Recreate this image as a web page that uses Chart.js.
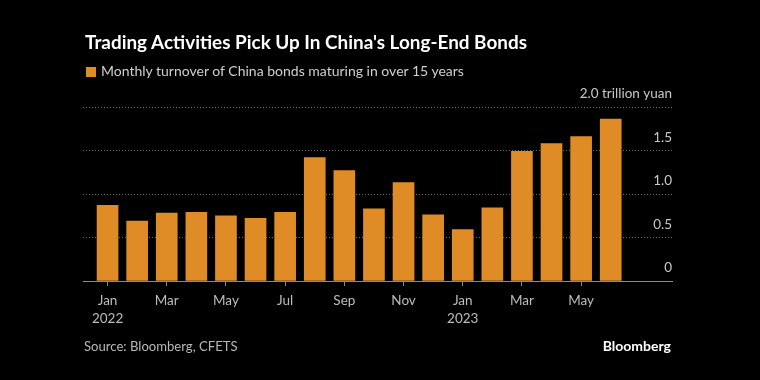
<!DOCTYPE html>
<html>
<head>
<meta charset="utf-8">
<script src="https://cdn.jsdelivr.net/npm/chart.js@4/dist/chart.umd.min.js"></script>
<style>
  html, body { margin: 0; padding: 0; background: #000; }
  #wrap { position: relative; width: 760px; height: 380px; background: #000; overflow: hidden; font-family: Lato, "Noto Sans", sans-serif; }
  #chart { position: absolute; left: 0; top: 0; }
  .t { position: absolute; white-space: nowrap; line-height: 1; }
  #title { left: 85px; top: 33px; font-size: 18.9px; font-weight: 700; color: #fff; }
  #legend { left: 86px; top: 64px; font-size: 14px; color: #d0d0d0; }
  #legend .sq { display: inline-block; width: 10px; height: 10px; background: #df8c27; margin-right: 5px; vertical-align: -1px; }
  #source { left: 84px; top: 340px; font-size: 13.1px; color: #b8b8b8; }
  #brand { right: 89px; top: 339px; font-size: 14px; font-weight: 700; color: #fff; }
</style>
</head>
<body>
<div id="wrap">
  <canvas id="chart" width="760" height="380"></canvas>
  <div class="t" id="title">Trading Activities Pick Up In China's Long-End Bonds</div>
  <div class="t" id="legend"><span class="sq"></span>Monthly turnover of China bonds maturing in over 15 years</div>
  <div class="t" id="source">Source: Bloomberg, CFETS</div>
  <div class="t" id="brand">Bloomberg</div>
</div>
<script>
// Months (Jan 2022 – Jun 2023)
const categories = ['2022-01','2022-02','2022-03','2022-04','2022-05','2022-06','2022-07','2022-08','2022-09',
                    '2022-10','2022-11','2022-12','2023-01','2023-02','2023-03','2023-04','2023-05','2023-06'];
// Monthly turnover, trillion yuan
const turnover = [0.87, 0.69, 0.78, 0.79, 0.75, 0.72, 0.79, 1.42, 1.27,
                  0.83, 1.13, 0.76, 0.59, 0.84, 1.49, 1.58, 1.66, 1.86];
// X tick positions (month index) and labels
const xTickIndex = [0, 2, 4, 6, 8, 10, 12, 14, 16];
const xTickLabels = [['Jan','2022'], 'Mar', 'May', 'Jul', 'Sep', 'Nov', ['Jan','2023'], 'Mar', 'May'];
// Y ticks
const yTicks = [0, 0.5, 1.0, 1.5, 2.0];
const yTickLabels = ['0', '0.5', '1.0', '1.5', '2.0 trillion yuan'];

const points = turnover.map((v, i) => ({ x: i, y: v }));
const font = "Lato, 'Noto Sans', sans-serif";

new Chart(document.getElementById('chart'), {
  type: 'bar',
  data: {
    datasets: [{
      label: 'Monthly turnover of China bonds maturing in over 15 years',
      data: points,
      backgroundColor: '#df8c27',
      borderWidth: 0,
      barThickness: 21
    }]
  },
  options: {
    responsive: false,
    animation: false,
    events: [],
    layout: { padding: { left: 83, right: 88, top: 107, bottom: 0 } },
    plugins: { legend: { display: false }, title: { display: false }, tooltip: { enabled: false } },
    scales: {
      x: {
        type: 'linear',
        offset: false,
        min: -0.83,
        max: 19.07,
        afterBuildTicks: s => { s.ticks = xTickIndex.map(v => ({ value: v })); },
        afterFit: s => { s.height = 99; },
        ticks: {
          autoSkip: false,
          maxRotation: 0,
          color: '#bdbdbd',
          font: { family: font, size: 13.5, lineHeight: 1.3 },
          padding: 6,
          callback: (v) => xTickLabels[xTickIndex.indexOf(v)]
        },
        grid: { offset: false, drawOnChartArea: false, drawTicks: true, tickLength: 5, color: '#8a8a8a' },
        border: { display: true, color: '#8a8a8a', width: 1 }
      },
      y: {
        position: 'right',
        min: 0,
        max: 2,
        afterBuildTicks: s => { s.ticks = yTicks.map(v => ({ value: v })); },
        afterFit: s => { s.width = 0; },
        ticks: {
          mirror: true,
          padding: 0,
          labelOffset: -13,
          color: '#c8c8c8',
          font: { family: font, size: 13.5 },
          callback: (v) => yTickLabels[yTicks.indexOf(v)]
        },
        grid: { drawTicks: false, color: c => (c.tick && c.tick.value === 0) ? 'rgba(0,0,0,0)' : '#6a6a6a', lineWidth: 1 },
        border: { display: false, dash: [1, 2] }
      }
    }
  }
});
</script>
</body>
</html>
